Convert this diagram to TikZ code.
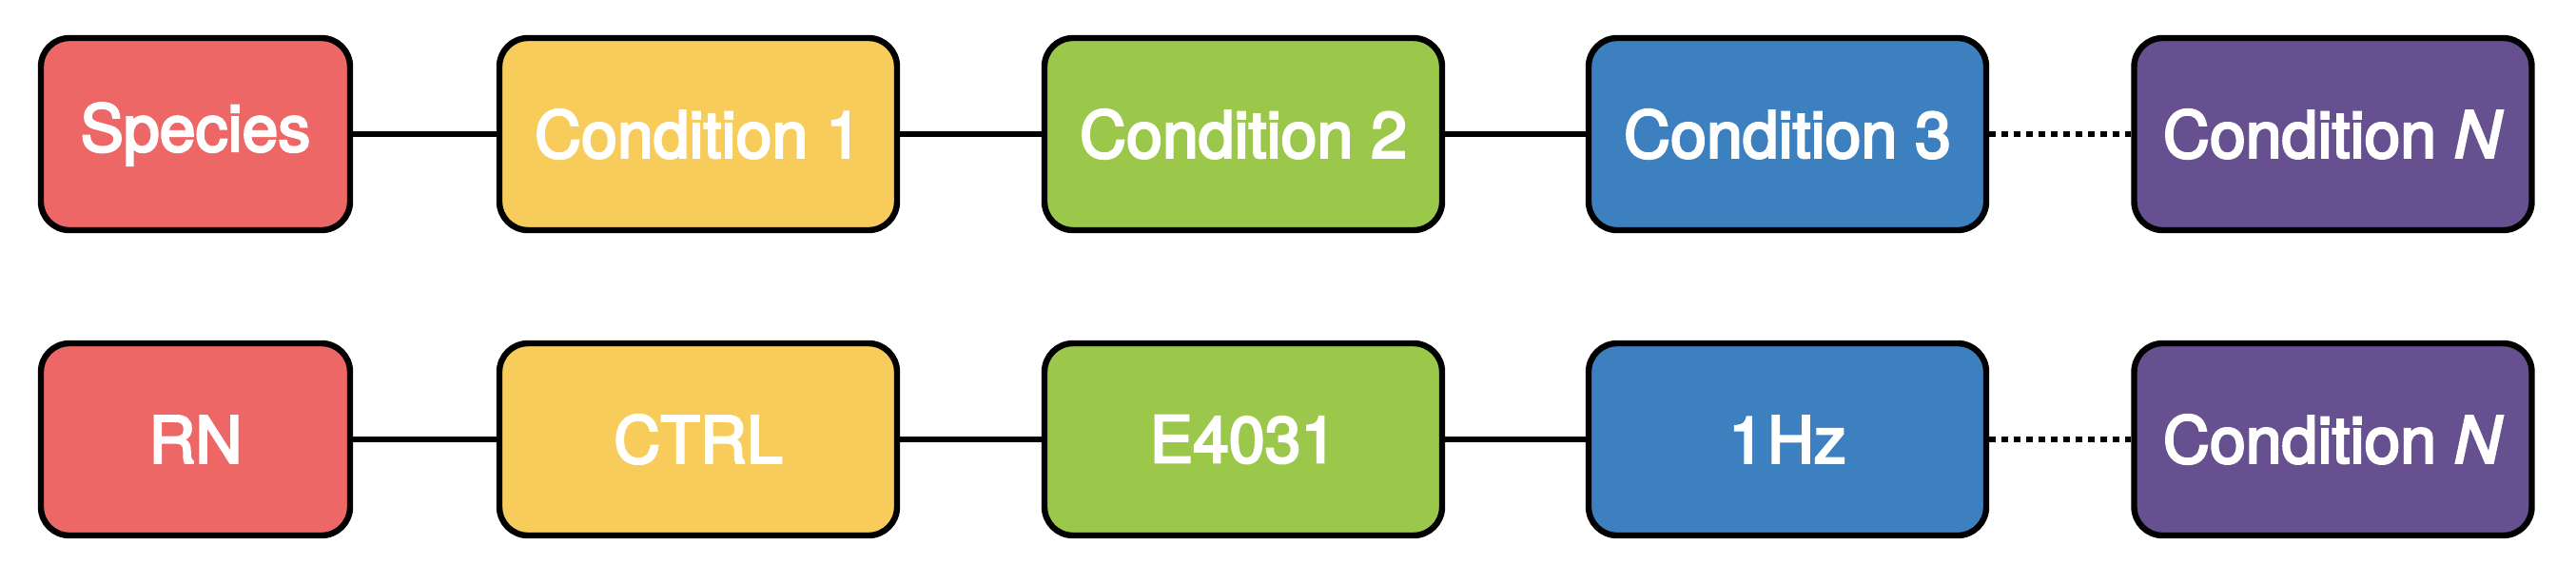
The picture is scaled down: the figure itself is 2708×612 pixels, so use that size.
\documentclass[tikz,border=0pt]{standalone}
\usepackage{fontspec}
\setmainfont{TeX Gyre Heros}[FakeBold=3.5]
\definecolor{cred}{HTML}{EE6767}
\definecolor{cyellow}{HTML}{F7CC5A}
\definecolor{cgreen}{HTML}{9BC84B}
\definecolor{cblue}{HTML}{3D80BF}
\definecolor{cpurple}{HTML}{66508F}
\tikzset{
  box/.style={draw=black, line width=3.2pt, rounded corners=15pt, minimum height=101pt,
    minimum width=209pt, text=white, font=\fontsize{34}{36}\selectfont, inner sep=0pt},
  short/.style={minimum width=162.5pt},
  link/.style={line width=2.8pt},
  dotlink/.style={line width=2.8pt, dash pattern=on 3.5pt off 3pt}
}
\begin{document}
\begin{tikzpicture}[x=0.5pt,y=-0.5pt]
\useasboundingbox (0,0) rectangle (2708,612);
\foreach \r/\y/\a/\b/\c/\d/\e in {1/141/Species/Condition 1/Condition 2/Condition 3/Condition \textit{N},
                                 2/462/RN/CTRL/E4031/1\kern1.5pt Hz/Condition \textit{N}} {
  \node[box,short,fill=cred] (a\r) at (205.5,\y) {\a};
  \node[box,fill=cyellow] (b\r) at (734,\y) {\b};
  \node[box,fill=cgreen] (c\r) at (1307,\y) {\c};
  \node[box,fill=cblue] (d\r) at (1879,\y) {\d};
  \node[box,fill=cpurple] (e\r) at (2452.5,\y) {\e};
  \draw[link] (a\r) -- (b\r);
  \draw[link] (b\r) -- (c\r);
  \draw[link] (c\r) -- (d\r);
  \draw[dotlink] (d\r) -- (e\r);
}
\end{tikzpicture}
\end{document}
